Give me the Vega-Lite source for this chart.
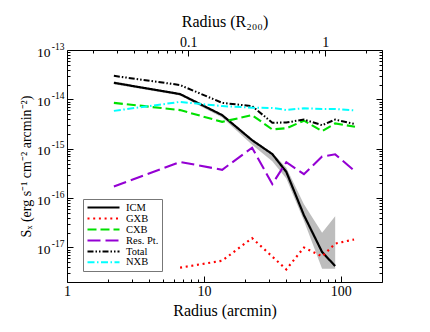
{
  "$schema": "https://vega.github.io/schema/vega-lite/v6.json",
  "width": 315,
  "height": 232,
  "autosize": {"type": "none"},
  "padding": {"left": 67, "top": 50, "right": 48, "bottom": 50},
  "background": "white",
  "config": {
    "font": "Liberation Serif",
    "view": {"stroke": null},
    "axis": {
      "labelFont": "Liberation Serif",
      "titleFont": "Liberation Serif",
      "titleFontWeight": "normal",
      "labelColor": "black",
      "titleColor": "black",
      "domainColor": "black",
      "tickColor": "black",
      "grid": false,
      "labelFlush": false,
      "labelBound": false,
      "labelOverlap": false
    }
  },
  "datasets": {
    "lines": [
      {"series": "ICM", "r": 2.2, "S": 2.17e-14},
      {"series": "ICM", "r": 6.7, "S": 1.28e-14},
      {"series": "ICM", "r": 13.6, "S": 4.8e-15},
      {"series": "ICM", "r": 22.5, "S": 1.49e-15},
      {"series": "ICM", "r": 31.6, "S": 7.8e-16},
      {"series": "ICM", "r": 40, "S": 3.4e-16},
      {"series": "ICM", "r": 53.8, "S": 4.5e-17},
      {"series": "ICM", "r": 73, "S": 8.1e-18},
      {"series": "ICM", "r": 91, "S": 4.2e-18},
      {"series": "GXB", "r": 6.7, "S": 3.9e-18},
      {"series": "GXB", "r": 13.6, "S": 5.4e-18},
      {"series": "GXB", "r": 22.5, "S": 1.55e-17},
      {"series": "GXB", "r": 40, "S": 3.6e-18},
      {"series": "GXB", "r": 53.8, "S": 1.0e-17},
      {"series": "GXB", "r": 73, "S": 6.6e-18},
      {"series": "GXB", "r": 91, "S": 1.2e-17},
      {"series": "GXB", "r": 125, "S": 1.45e-17},
      {"series": "CXB", "r": 2.2, "S": 8.5e-15},
      {"series": "CXB", "r": 6.7, "S": 6.07e-15},
      {"series": "CXB", "r": 13.6, "S": 3.5e-15},
      {"series": "CXB", "r": 22.5, "S": 4.8e-15},
      {"series": "CXB", "r": 31.6, "S": 2.46e-15},
      {"series": "CXB", "r": 40, "S": 2.6e-15},
      {"series": "CXB", "r": 53.8, "S": 3.7e-15},
      {"series": "CXB", "r": 73, "S": 2.27e-15},
      {"series": "CXB", "r": 91, "S": 3.26e-15},
      {"series": "CXB", "r": 127, "S": 2.79e-15},
      {"series": "Res. Pt.", "r": 2.2, "S": 1.72e-16},
      {"series": "Res. Pt.", "r": 6.7, "S": 5.4e-16},
      {"series": "Res. Pt.", "r": 13.6, "S": 3.75e-16},
      {"series": "Res. Pt.", "r": 22.5, "S": 1.05e-15},
      {"series": "Res. Pt.", "r": 31.6, "S": 1.93e-16},
      {"series": "Res. Pt.", "r": 40, "S": 5.35e-16},
      {"series": "Res. Pt.", "r": 53.8, "S": 3.05e-16},
      {"series": "Res. Pt.", "r": 73, "S": 6.95e-16},
      {"series": "Res. Pt.", "r": 91, "S": 7.7e-16},
      {"series": "Res. Pt.", "r": 127, "S": 3.5e-16},
      {"series": "Total", "r": 2.2, "S": 3.0e-14},
      {"series": "Total", "r": 6.7, "S": 1.95e-14},
      {"series": "Total", "r": 13.6, "S": 8.5e-15},
      {"series": "Total", "r": 22.5, "S": 7.3e-15},
      {"series": "Total", "r": 31.6, "S": 3.36e-15},
      {"series": "Total", "r": 40, "S": 3.4e-15},
      {"series": "Total", "r": 53.8, "S": 3.9e-15},
      {"series": "Total", "r": 73, "S": 3.0e-15},
      {"series": "Total", "r": 91, "S": 3.9e-15},
      {"series": "Total", "r": 127, "S": 3.16e-15},
      {"series": "NXB", "r": 2.2, "S": 5.85e-15},
      {"series": "NXB", "r": 6.7, "S": 8.9e-15},
      {"series": "NXB", "r": 13.6, "S": 7.3e-15},
      {"series": "NXB", "r": 22.5, "S": 6.8e-15},
      {"series": "NXB", "r": 31.6, "S": 6.7e-15},
      {"series": "NXB", "r": 40, "S": 6.1e-15},
      {"series": "NXB", "r": 53.8, "S": 6.6e-15},
      {"series": "NXB", "r": 73, "S": 6.4e-15},
      {"series": "NXB", "r": 91, "S": 6.4e-15},
      {"series": "NXB", "r": 127, "S": 5.95e-15}
    ],
    "band": [
      {"r": 2.2, "lo": 2.02e-14, "hi": 2.22e-14},
      {"r": 6.7, "lo": 1.2e-14, "hi": 1.31e-14},
      {"r": 13.6, "lo": 4.3e-15, "hi": 4.95e-15},
      {"r": 22.5, "lo": 1.2e-15, "hi": 1.55e-15},
      {"r": 31.6, "lo": 5.6e-16, "hi": 8.3e-16},
      {"r": 40, "lo": 2.5e-16, "hi": 4.1e-16},
      {"r": 53.8, "lo": 3.5e-17, "hi": 7.5e-17},
      {"r": 73, "lo": 3.7e-18, "hi": 2.0e-17},
      {"r": 91, "lo": 3.7e-18, "hi": 4.3e-17}
    ]
  },
  "layer": [
    {
      "data": {"name": "band"},
      "mark": {"type": "area", "color": "#bdbdbd", "opacity": 1},
      "encoding": {
        "x": {
          "field": "r", "type": "quantitative",
          "scale": {"type": "log", "domain": [1, 200]},
          "axis": {
            "orient": "bottom",
            "values": [1, 2, 3, 4, 5, 6, 7, 8, 9, 10, 20, 30, 40, 50, 60, 70, 80, 90, 100],
            "labelExpr": "abs(log(datum.value)/LN10 - round(log(datum.value)/LN10)) < 0.001 ? '' + datum.value : ''",
            "tickSize": {"condition": {"test": "abs(log(datum.value)/LN10 - round(log(datum.value)/LN10)) < 0.001", "value": -6}, "value": -3},
            "labelPadding": 8,
            "labelFontSize": 14,
            "title": "Radius (arcmin)",
            "titleFontSize": 16,
            "titlePadding": 1
          }
        },
        "y": {
          "field": "lo", "type": "quantitative",
          "scale": {"type": "log", "domain": [2e-18, 1e-13]},
          "axis": {
            "orient": "left",
            "values": [2e-18, 3e-18, 4e-18, 5e-18, 6e-18, 7e-18, 8e-18, 9e-18, 1e-17, 2e-17, 3e-17, 4e-17, 5e-17, 6e-17, 7e-17, 8e-17, 9e-17, 1e-16, 2e-16, 3e-16, 4e-16, 5e-16, 6e-16, 7e-16, 8e-16, 9e-16, 1e-15, 2e-15, 3e-15, 4e-15, 5e-15, 6e-15, 7e-15, 8e-15, 9e-15, 1e-14, 2e-14, 3e-14, 4e-14, 5e-14, 6e-14, 7e-14, 8e-14, 9e-14, 1e-13],
            "labelExpr": "abs(log(datum.value)/LN10 - round(log(datum.value)/LN10)) < 0.001 ? '10' : ''",
            "tickSize": {"condition": {"test": "abs(log(datum.value)/LN10 - round(log(datum.value)/LN10)) < 0.001", "value": -6}, "value": -3},
            "labelPadding": 23,
            "labelOffset": 2,
            "labelFontSize": 13.5,
            "title": "Sₓ (erg s⁻¹ cm⁻² arcmin⁻²)",
            "titleFontSize": 14,
            "titlePadding": 3
          }
        },
        "y2": {"field": "hi"}
      }
    },
    {
      "data": {"name": "lines"},
      "mark": {"type": "line", "strokeCap": "butt"},
      "encoding": {
        "x": {"field": "r", "type": "quantitative", "scale": {"type": "log", "domain": [1, 200]}, "axis": null},
        "y": {"field": "S", "type": "quantitative", "scale": {"type": "log", "domain": [2e-18, 1e-13]}, "axis": null},
        "color": {
          "field": "series", "type": "nominal",
          "scale": {"domain": ["ICM", "GXB", "CXB", "Res. Pt.", "Total", "NXB"], "range": ["#000000", "#ff0000", "#00e000", "#9400d3", "#000000", "#00ffff"]},
          "legend": {
            "orient": "none", "legendX": 16, "legendY": 149,
            "title": null,
            "symbolType": "M-1,0H7",
            "symbolSize": 64,
            "symbolStrokeWidth": 2,
            "labelFont": "Liberation Serif",
            "labelFontSize": 10.5,
            "labelColor": "black",
            "labelOffset": 29,
            "padding": 3,
            "rowPadding": 0,
            "strokeColor": "#777777",
            "fillColor": "white"
          }
        },
        "strokeDash": {
          "field": "series", "type": "nominal",
          "scale": {"domain": ["ICM", "GXB", "CXB", "Res. Pt.", "Total", "NXB"], "range": [[1, 0], [2, 3.7], [9, 4], [13, 5], [6, 2, 1.5, 2, 1.5, 2], [7, 2.5, 1.5, 2.5]]}
        },
        "strokeWidth": {
          "field": "series", "type": "nominal",
          "scale": {"domain": ["ICM", "GXB", "CXB", "Res. Pt.", "Total", "NXB"], "range": [2.2, 2, 2, 2, 0.9, 1]},
          "legend": null
        }
      }
    },
    {
      "data": {"name": "lines"},
      "mark": {"type": "point", "opacity": 0},
      "encoding": {
        "x": {
          "field": "r", "type": "quantitative",
          "scale": {"type": "log", "domain": [1, 200]},
          "axis": {
            "orient": "top",
            "values": [1.54, 2.31, 3.08, 3.85, 4.62, 5.39, 6.16, 6.93, 7.7, 15.4, 23.1, 30.8, 38.5, 46.2, 53.9, 61.6, 69.3, 77, 154],
            "labelExpr": "datum.value == 7.7 ? '0.1' : (datum.value == 77 ? '1' : '')",
            "tickSize": {"condition": {"test": "datum.value == 7.7 || datum.value == 77", "value": -6}, "value": -3},
            "labelPadding": 6.5,
            "labelFontSize": 14,
            "title": "Radius (R₂₀₀)",
            "titleFontSize": 16,
            "titlePadding": 3
          }
        },
        "y": {
          "field": "S", "type": "quantitative",
          "scale": {"type": "log", "domain": [2e-18, 1e-13]},
          "axis": {
            "orient": "right",
            "values": [2e-18, 3e-18, 4e-18, 5e-18, 6e-18, 7e-18, 8e-18, 9e-18, 1e-17, 2e-17, 3e-17, 4e-17, 5e-17, 6e-17, 7e-17, 8e-17, 9e-17, 1e-16, 2e-16, 3e-16, 4e-16, 5e-16, 6e-16, 7e-16, 8e-16, 9e-16, 1e-15, 2e-15, 3e-15, 4e-15, 5e-15, 6e-15, 7e-15, 8e-15, 9e-15, 1e-14, 2e-14, 3e-14, 4e-14, 5e-14, 6e-14, 7e-14, 8e-14, 9e-14, 1e-13],
            "labels": false,
            "tickSize": {"condition": {"test": "abs(log(datum.value)/LN10 - round(log(datum.value)/LN10)) < 0.001", "value": -6}, "value": -3},
            "title": null
          }
        }
      }
    },
    {
      "data": {"name": "lines"},
      "mark": {"type": "point", "opacity": 0},
      "encoding": {
        "x": {"field": "r", "type": "quantitative", "scale": {"type": "log", "domain": [1, 200]}, "axis": null},
        "y": {
          "field": "S", "type": "quantitative",
          "scale": {"type": "log", "domain": [2e-18, 1e-13]},
          "axis": {
            "orient": "left",
            "values": [1e-17, 1e-16, 1e-15, 1e-14, 1e-13],
            "labelExpr": "'-' + (-round(log(datum.value)/LN10))",
            "ticks": false,
            "domain": false,
            "labelPadding": 3,
            "labelOffset": -4,
            "labelFontSize": 9.5,
            "title": null
          }
        }
      }
    }
  ],
  "resolve": {"scale": {"x": "independent", "y": "independent"}}
}
